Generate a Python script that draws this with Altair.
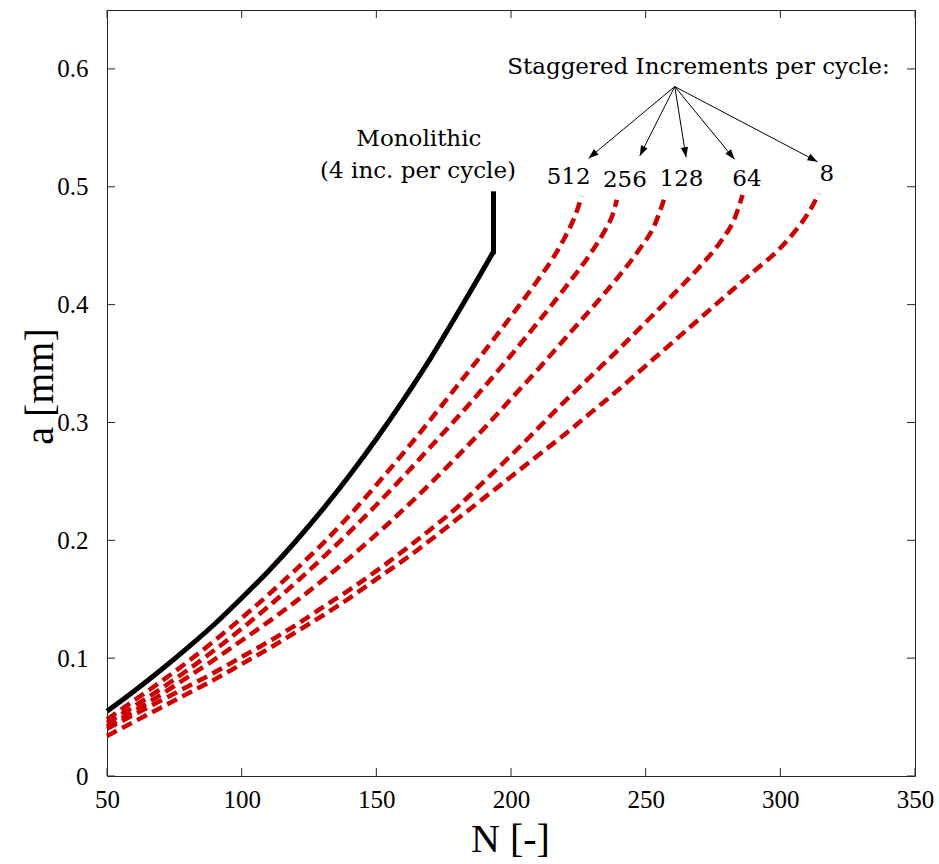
import math
import altair as alt
import pandas as pd

# ---------------- data ----------------
x_ticks = [50, 100, 150, 200, 250, 300, 350]
y_ticks = [0, 0.1, 0.2, 0.3, 0.4, 0.5, 0.6]

mono_N = [50, 60, 70, 80, 90, 100, 110, 120, 130, 140, 150, 160, 170, 180, 190, 193.5]
mono_a = [0.055, 0.072, 0.090, 0.109, 0.129, 0.151, 0.174, 0.199, 0.226, 0.255, 0.286, 0.319,
          0.354, 0.392, 0.431, 0.445]
mono_jump_a = [0.445, 0.494]   # final vertical segment at the last cycle

inc512_N = [50, 60, 70, 80, 90, 100, 110, 120, 130, 140, 150, 160, 170, 180, 190, 200, 210, 216, 220, 223, 225, 226.2]
inc512_a = [0.048, 0.064, 0.080, 0.097, 0.115, 0.134, 0.154, 0.175, 0.197, 0.221, 0.247, 0.274,
            0.302, 0.331, 0.360, 0.390, 0.421, 0.441, 0.457, 0.471, 0.483, 0.492]

inc256_N = [50, 60, 70, 80, 90, 100, 110, 120, 130, 140, 150, 160, 170, 180, 190, 200, 210, 220, 230, 235, 238, 239.3]
inc256_a = [0.045, 0.059, 0.074, 0.090, 0.107, 0.125, 0.144, 0.164, 0.185, 0.207, 0.230, 0.254,
            0.279, 0.304, 0.330, 0.357, 0.385, 0.414, 0.445, 0.4635, 0.478, 0.489]

inc128_N = [50, 60, 70, 80, 90, 100, 110, 120, 130, 140, 150, 160, 170, 180, 190, 200, 210, 220, 230, 240, 248, 253, 256.8]
inc128_a = [0.042, 0.055, 0.069, 0.084, 0.099, 0.115, 0.131, 0.148, 0.166, 0.185, 0.205, 0.226,
            0.248, 0.271, 0.295, 0.320, 0.345, 0.371, 0.397, 0.424, 0.448, 0.466, 0.489]

inc64_N = [50, 60, 70, 80, 90, 100, 110, 120, 130, 140, 150, 160, 170, 180, 190, 200, 210, 220, 230, 240, 250, 260, 270, 278, 283, 286]
inc64_a = [0.040, 0.052, 0.064, 0.076, 0.088, 0.101, 0.114, 0.128, 0.143, 0.158, 0.174, 0.191,
           0.209, 0.228, 0.250, 0.272, 0.295, 0.318, 0.340, 0.362, 0.385, 0.408, 0.432, 0.454, 0.473, 0.493]

inc8_N = [50, 60, 70, 80, 90, 100, 110, 120, 130, 140, 150, 160, 170, 180, 190, 200, 210, 220, 230, 240,
          250, 260, 270, 280, 290, 300, 305, 309, 312, 314.2]
inc8_a = [0.034, 0.046, 0.058, 0.070, 0.082, 0.095, 0.108, 0.122, 0.136, 0.151, 0.167, 0.183,
          0.200, 0.218, 0.236, 0.254, 0.272, 0.290, 0.309, 0.328, 0.348, 0.368, 0.388, 0.408,
          0.428, 0.448, 0.461, 0.473, 0.484, 0.494]

ann_text = ["Staggered Increments per cycle:", "Monolithic", "(4 inc. per cycle)",
            "512", "256", "128", "64", "8"]
ann_N = [269.6, 165.8, 165.5, 221.4, 242.3, 263.3, 287.6, 317.3]
ann_a = [0.5957, 0.5346, 0.5075, 0.5024, 0.4998, 0.5006, 0.5006, 0.5050]

arrow_from_N = 260.8
arrow_from_a = 0.585
arrow_to_N = [228.8, 247.8, 265.0, 283.0, 313.8]
arrow_to_a = [0.5242, 0.5262, 0.5250, 0.5233, 0.5213]

# ---------------- layout ----------------
W, H = 808, 766
X_DOM = [50, 350]
Y_DOM = [0, 0.65]
FONT = "Liberation Serif"
ANN_FONT = "DejaVu Serif"

mono_df = pd.DataFrame({"N": mono_N, "a": mono_a})
jump_df = pd.DataFrame({"N": [mono_N[-1], mono_N[-1]], "a": mono_jump_a})

red_frames = []
for name, Ns, As in [("512", inc512_N, inc512_a), ("256", inc256_N, inc256_a),
                     ("128", inc128_N, inc128_a), ("64", inc64_N, inc64_a),
                     ("8", inc8_N, inc8_a)]:
    red_frames.append(pd.DataFrame({"N": Ns, "a": As, "series": name}))
red_df = pd.concat(red_frames, ignore_index=True)

ann_df = pd.DataFrame({"N": ann_N, "a": ann_a, "t": ann_text})

sx = W / (X_DOM[1] - X_DOM[0])
sy = H / (Y_DOM[1] - Y_DOM[0])
angs = []
for n1, a1 in zip(arrow_to_N, arrow_to_a):
    dx = (n1 - arrow_from_N) * sx
    dy = -(a1 - arrow_from_a) * sy
    angs.append(math.degrees(math.atan2(dx, -dy)) % 360)
arrow_df = pd.DataFrame({"N0": [arrow_from_N] * len(arrow_to_N),
                         "a0": [arrow_from_a] * len(arrow_to_N),
                         "N1": arrow_to_N, "a1": arrow_to_a, "ang": angs})

xscale = alt.Scale(domain=X_DOM, nice=False, zero=False)
yscale = alt.Scale(domain=Y_DOM, nice=False, zero=False)

xaxis = alt.Axis(values=x_ticks, format="d", title="N [-]", domain=False, ticks=False, tickSize=0,
                 grid=False, labelFont=FONT, labelFontSize=25, labelColor="black",
                 labelPadding=11, labelBaseline="top", labelFlush=False,
                 titleFont=FONT, titleFontSize=40, titleFontWeight="normal", titleColor="black",
                 titleBaseline="middle", titleY=63, titleX=403)
yaxis = alt.Axis(values=y_ticks, format=".1~f", title="a [mm]", domain=False, ticks=False, tickSize=0,
                 grid=False, labelFont=FONT, labelFontSize=25, labelColor="black",
                 labelPadding=19, labelFlush=False,
                 titleFont=FONT, titleFontSize=40, titleFontWeight="normal", titleColor="black",
                 titleBaseline="middle", titleX=-67, titleY=376)


def X(field):
    return alt.X(field, type="quantitative", scale=xscale, axis=xaxis)


def Y(field):
    return alt.Y(field, type="quantitative", scale=yscale, axis=yaxis)


xt_df = pd.DataFrame({"t": x_ticks})
yt_df = pd.DataFrame({"t": y_ticks})
TICK = 8
tick_col = "#262626"

xt_bottom = alt.Chart(xt_df).mark_rule(color=tick_col, strokeWidth=1).encode(
    x=X("t"), y=alt.value(H), y2=alt.value(H - TICK))
xt_top = alt.Chart(xt_df).mark_rule(color=tick_col, strokeWidth=1).encode(
    x=X("t"), y=alt.value(0), y2=alt.value(TICK))
yt_left = alt.Chart(yt_df).mark_rule(color=tick_col, strokeWidth=1).encode(
    y=Y("t"), x=alt.value(0), x2=alt.value(TICK))
yt_right = alt.Chart(yt_df).mark_rule(color=tick_col, strokeWidth=1).encode(
    y=Y("t"), x=alt.value(W), x2=alt.value(W - TICK))

red = alt.Chart(red_df).mark_line(color="#cc0000", strokeWidth=4.5, strokeDash=[11, 6],
                                  strokeCap="butt", interpolate="monotone").encode(
    x=X("N"), y=Y("a"), detail="series:N")

mono = alt.Chart(mono_df).mark_line(color="black", strokeWidth=5, interpolate="monotone").encode(
    x=X("N"), y=Y("a"))
jump = alt.Chart(jump_df).mark_line(color="black", strokeWidth=5, strokeCap="square").encode(
    x=X("N"), y=Y("a"))

arrows = alt.Chart(arrow_df).mark_rule(color="black", strokeWidth=1).encode(
    x=X("N0"), y=Y("a0"), x2="N1:Q", y2="a1:Q")

heads = alt.Chart(arrow_df).mark_point(shape="M0,0L-0.36,1L0.36,1Z", filled=True, color="black",
                                       opacity=1, size=400, strokeWidth=0).encode(
    x=X("N1"), y=Y("a1"), angle=alt.Angle("ang:Q", scale=None))

texts = alt.Chart(ann_df).mark_text(font=ANN_FONT, fontSize=23, color="black", align="center",
                                    baseline="alphabetic").encode(
    x=X("N"), y=Y("a"), text="t:N")

chart = alt.layer(xt_bottom, xt_top, yt_left, yt_right, red, mono, jump, arrows, heads, texts).properties(
    width=W, height=H,
    autosize=alt.AutoSizeParams(type="none"),
    padding={"left": 107, "top": 10, "right": 24, "bottom": 88},
    background="white",
).configure_view(stroke="#262626", strokeWidth=1)

chart.save("out.html", embed_options={"renderer": "svg", "actions": False})
